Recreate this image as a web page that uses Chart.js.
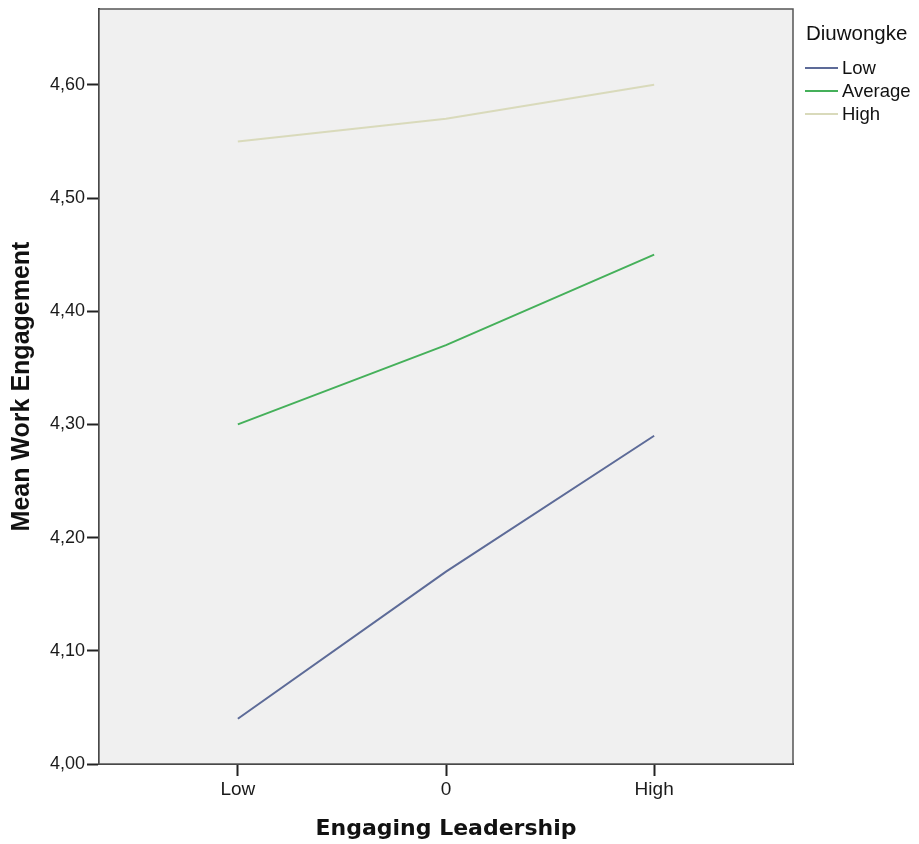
<!DOCTYPE html>
<html>
<head>
<meta charset="utf-8">
<script src="https://cdn.jsdelivr.net/npm/chart.js@4/dist/chart.umd.min.js"></script>
<style>
  html, body { margin: 0; padding: 0; background: #fff; }
  #wrap { width: 919px; height: 844px; }
</style>
</head>
<body>
<div id="wrap"><canvas id="chart"></canvas></div>
<script>
const categories = ['Low', '0', 'High'];
const seriesNames = ['Low', 'Average', 'High'];
const lowValues = [4.04, 4.17, 4.29];
const averageValues = [4.30, 4.37, 4.45];
const highValues = [4.55, 4.57, 4.60];
const yTicks = [4.0, 4.1, 4.2, 4.3, 4.4, 4.5, 4.6];
const colors = ['#5d6b98', '#45b05a', '#d9dabb'];

const toPoints = vals => vals.map((v, i) => ({ x: i, y: v }));

// plot background + frame like SPSS
const plotFrame = {
  id: 'plotFrame',
  beforeDatasetsDraw(chart) {
    const { ctx, chartArea: a } = chart;
    ctx.save();
    ctx.fillStyle = '#f0f0f0';
    ctx.fillRect(a.left, a.top, a.width, a.height);
    ctx.strokeStyle = '#555';
    ctx.lineWidth = 1.5;
    ctx.strokeRect(a.left, a.top, a.width, a.height);
    ctx.restore();
  }
};

// legend drawn at the right, outside the plot
const sideLegend = {
  id: 'sideLegend',
  afterDraw(chart) {
    const ctx = chart.ctx;
    const x0 = 806;
    ctx.save();
    ctx.fillStyle = '#111';
    ctx.textBaseline = 'middle';
    ctx.font = '20.5px "Liberation Sans", Arial, sans-serif';
    ctx.fillText('Diuwongke', x0, 34);
    ctx.font = '18.5px "Liberation Sans", Arial, sans-serif';
    chart.data.datasets.forEach((ds, i) => {
      const y = 68 + i * 23;
      ctx.strokeStyle = ds.borderColor;
      ctx.lineWidth = 2;
      ctx.beginPath();
      ctx.moveTo(x0 - 1, y);
      ctx.lineTo(x0 + 32, y);
      ctx.stroke();
      ctx.fillStyle = '#111';
      ctx.fillText(ds.label, x0 + 36, y + 1);
    });
    ctx.restore();
  }
};

const makeSet = (label, vals, color) => ({
  label: label,
  data: toPoints(vals),
  borderColor: color,
  backgroundColor: color,
  borderWidth: 2,
  pointRadius: 0,
  tension: 0,
  fill: false
});

new Chart(document.getElementById('chart'), {
  type: 'line',
  data: {
    datasets: [
      makeSet(seriesNames[0], lowValues, colors[0]),
      makeSet(seriesNames[1], averageValues, colors[1]),
      makeSet(seriesNames[2], highValues, colors[2])
    ]
  },
  plugins: [plotFrame, sideLegend],
  options: {
    responsive: true,
    maintainAspectRatio: false,
    animation: false,
    layout: { padding: { left: 0, right: 126, top: 9, bottom: 0 } },
    plugins: {
      legend: { display: false },
      tooltip: { enabled: false }
    },
    scales: {
      x: {
        type: 'linear',
        min: -0.667,
        max: 2.667,
        afterBuildTicks: s => { s.ticks = categories.map((c, i) => ({ value: i })); },
        afterFit: s => { s.height = 80; s.paddingLeft = 0; s.paddingRight = 0; },
        grid: { drawOnChartArea: false, drawTicks: true, tickLength: 12, tickColor: '#222', tickWidth: 2 },
        border: { display: true, color: '#222', width: 2 },
        ticks: {
          autoSkip: false,
          maxRotation: 0,
          padding: 2,
          color: '#1a1a1a',
          font: { family: '"Liberation Sans", Arial, sans-serif', size: 19 },
          callback: v => categories[v]
        },
        title: {
          display: true,
          text: 'Engaging Leadership',
          color: '#111',
          font: { family: '"DejaVu Sans", Verdana, sans-serif', size: 22, weight: 'bold' },
          padding: { top: 0, bottom: 2 }
        }
      },
      y: {
        min: 4.0,
        max: 4.667,
        afterBuildTicks: s => { s.ticks = yTicks.map(v => ({ value: v })); },
        afterFit: s => { s.width = 99; s.paddingTop = 0; s.paddingBottom = 0; },
        grid: { drawOnChartArea: false, drawTicks: true, tickLength: 12, tickColor: '#222', tickWidth: 2 },
        border: { display: true, color: '#222', width: 2 },
        ticks: {
          padding: 2,
          color: '#1a1a1a',
          font: { family: '"Liberation Sans", Arial, sans-serif', size: 18 },
          callback: v => v.toFixed(2).replace('.', ',')
        },
        title: {
          display: true,
          text: 'Mean Work Engagement',
          color: '#111',
          font: { family: '"Liberation Sans", Arial, sans-serif', size: 25, weight: 'bold' },
          padding: { top: 7, bottom: 0 }
        }
      }
    }
  }
});
</script>
</body>
</html>
